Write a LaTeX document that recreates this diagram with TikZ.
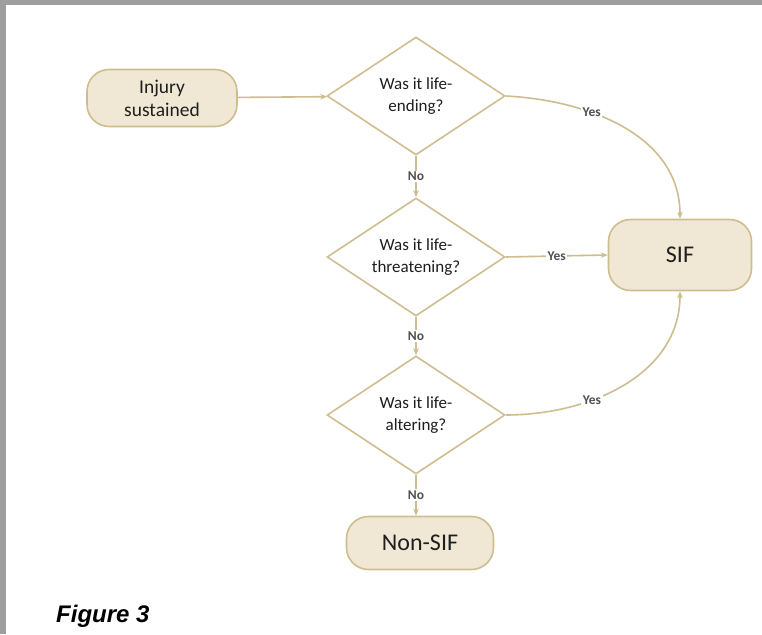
\documentclass[tikz,border=0pt]{standalone}
\usepackage{fontspec}
\setmainfont{Carlito}
\newfontfamily\figfont{Liberation Sans}
\usetikzlibrary{shapes.geometric,arrows.meta}

\definecolor{tanline}{RGB}{206,189,142}
\definecolor{tanfill}{RGB}{240,232,213}
\definecolor{txt}{RGB}{30,30,30}
\definecolor{lbl}{RGB}{80,80,80}

\begin{document}
\begin{tikzpicture}[x=1pt, y=1pt,
    flow/.style={draw=tanline, line width=1.6pt, -{Stealth[length=7pt,width=5.5pt]}, color=tanline},
    terminal/.style={draw=tanline, fill=tanfill, line width=1.6pt, rounded corners=22pt,
        text=txt, align=center, inner sep=0pt},
    decision/.style={draw=tanline, fill=white, line width=1.6pt, shape=diamond, aspect=1.5,
        minimum width=178pt, minimum height=118pt, inner sep=0pt, text=txt, align=center,
        font=\fontsize{17}{22}\selectfont},
    answer/.style={fill=white, text=lbl, inner sep=1.5pt, font=\bfseries\fontsize{13.5}{15}\selectfont}]

    % Page frame
    \useasboundingbox (0,0) rectangle (762,634);
    \fill[black!38] (0,0) rectangle (762,634);
    \fill[white] (6,0) rectangle (762,629);

    % Start and end boxes
    \node[terminal, minimum width=150pt, minimum height=57pt, font=\fontsize{19.5}{23}\selectfont]
        (injury) at (162,536) {Injury\\sustained};
    \node[terminal, minimum width=143pt, minimum height=71pt, font=\fontsize{24}{28}\selectfont]
        (sif) at (680,379) {SIF};
    \node[terminal, minimum width=147pt, minimum height=53pt, font=\fontsize{24}{28}\selectfont]
        (nonsif) at (420,91) {Non-SIF};

    % Decisions
    \node[decision] (ending) at (416,538) {Was it life-\\ending?};
    \node[decision] (threat) at (416,377) {Was it life-\\threatening?};
    \node[decision] (alter) at (416,219) {Was it life-\\altering?};

    % Arrows
    \draw[flow] (injury) -- (ending);
    \draw[flow] (ending.south) -- node[answer] {No} (threat.north);
    \draw[flow] (threat.south) -- node[answer] {No} (alter.north);
    \coordinate (nonsiftop) at (alter.south |- nonsif.north);
    \draw[flow] (alter.south) -- node[answer] {No} (nonsiftop);

    % Yes branches
    \draw[flow] (ending.east) to[out=-3, in=90] node[answer, pos=0.35] {Yes} (sif.north);
    \draw[flow] (threat.east) -- node[answer] {Yes} (sif.west);
    \draw[flow] (alter.east) to[out=0, in=-90] node[answer, pos=0.35] {Yes} (sif.south);

    % Caption
    \node[anchor=base west, inner sep=0pt, text=black, font=\figfont\bfseries\itshape\fontsize{24}{27}\selectfont]
        (caption) at (56,12) {Figure 3};

\end{tikzpicture}
\end{document}
